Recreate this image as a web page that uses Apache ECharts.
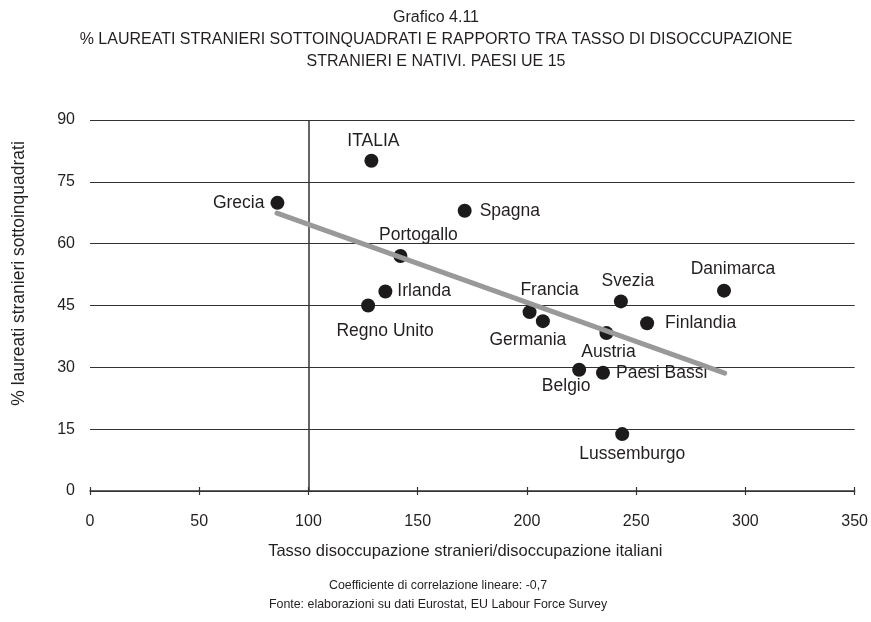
<!DOCTYPE html>
<html>
<head>
<meta charset="utf-8">
<script src="https://cdn.jsdelivr.net/npm/echarts@6/dist/echarts.min.js"></script>
<style>
  html, body { margin: 0; padding: 0; background: #fff; }
  #chart { width: 871px; height: 622px; }
</style>
</head>
<body>
<div id="chart"></div>
<script>
// EU-15 countries: unemployment ratio (foreign / native, index) vs % of overqualified foreign graduates
const countries = ['Grecia', 'ITALIA', 'Spagna', 'Portogallo', 'Irlanda', 'Regno Unito', 'Francia', 'Germania',
  'Svezia', 'Danimarca', 'Finlandia', 'Austria', 'Belgio', 'Paesi Bassi', 'Lussemburgo'];
const unemploymentRatio = [85.8, 128.8, 171.5, 142.1, 135.2, 127.3, 201.2, 207.3, 243.0, 290.2, 255.0, 236.4, 223.9, 234.8, 243.6];
const overqualifiedPct = [69.9, 80.1, 68.0, 57.0, 48.4, 45.0, 43.4, 41.2, 46.0, 48.6, 40.7, 38.3, 29.4, 28.7, 13.8];

// Linear trend line endpoints
const trendX = [85.6, 290.5];
const trendY = [67.4, 28.6];

// Axis ticks
const xTickValues = [0, 50, 100, 150, 200, 250, 300, 350];
const yTickValues = [0, 15, 30, 45, 60, 75, 90];
const referenceX = 100;

const titleLines = [
  'Grafico 4.11',
  '% LAUREATI STRANIERI SOTTOINQUADRATI E RAPPORTO TRA TASSO DI DISOCCUPAZIONE',
  'STRANIERI E NATIVI. PAESI UE 15'
];
const footerLines = [
  'Coefficiente di correlazione lineare: -0,7',
  'Fonte: elaborazioni su dati Eurostat, EU Labour Force Survey'
];

const FONT = '"Liberation Sans", Arial, sans-serif';
const INK = '#231f20';

// Where each country's name sits around its dot
const labelLayout = {
  'Grecia':      { position: 'left',   distance: 6 },
  'ITALIA':      { position: 'top',    distance: 4, offset: [2, 0] },
  'Spagna':      { position: 'right',  distance: 8 },
  'Portogallo':  { position: 'top',    distance: 5, offset: [18, 0] },
  'Irlanda':     { position: 'right',  distance: 5 },
  'Regno Unito': { position: 'bottom', distance: 10, offset: [17, 0] },
  'Francia':     { position: 'top',    distance: 6, offset: [20, 0] },
  'Germania':    { position: 'bottom', distance: 3, offset: [-15, 0] },
  'Svezia':      { position: 'top',    distance: 4, offset: [7, 0] },
  'Danimarca':   { position: 'top',    distance: 5, offset: [9, 0] },
  'Finlandia':   { position: 'right',  distance: 11 },
  'Austria':     { position: 'bottom', distance: 3, offset: [2, 0] },
  'Belgio':      { position: 'bottom', distance: 0, offset: [-13, 0] },
  'Paesi Bassi': { position: 'right',  distance: 6 },
  'Lussemburgo': { position: 'bottom', distance: 4, offset: [10, 0] }
};

const points = countries.map((name, i) => ({
  name: name,
  value: [unemploymentRatio[i], overqualifiedPct[i]],
  label: Object.assign({ show: true, formatter: name }, labelLayout[name])
}));

const trendData = trendX.map((x, i) => [x, trendY[i]]);

const axisCommon = {
  type: 'value',
  min: xTickValues[0],
  max: xTickValues[xTickValues.length - 1],
  interval: xTickValues[1] - xTickValues[0]
};

const centeredText = (lines, x, y0, step, size) => lines.map((t, i) => ({
  type: 'text',
  x: x,
  y: y0 + i * step,
  silent: true,
  style: { text: t, fontFamily: FONT, fontSize: size, fill: INK, align: 'center', verticalAlign: 'middle' }
}));

const chart = echarts.init(document.getElementById('chart'), null, { renderer: 'canvas' });

chart.setOption({
  backgroundColor: '#ffffff',
  animation: false,
  textStyle: { fontFamily: FONT, color: INK },
  graphic: [].concat(
    centeredText(titleLines, 436, 17.5, 22, 16),
    centeredText(footerLines, 438, 586, 19, 12.4)
  ),
  grid: { left: 90, right: 11, top: 120, bottom: 131, containLabel: false },
  xAxis: [
    Object.assign({}, axisCommon, {
      position: 'bottom',
      name: 'Tasso disoccupazione stranieri/disoccupazione italiani',
      nameLocation: 'middle',
      nameGap: 52,
      nameTextStyle: { fontFamily: FONT, fontSize: 16.5, color: INK, padding: [0, 14, 0, 0] },
      axisLine: { show: true, onZero: false, lineStyle: { color: '#333', width: 1.5 } },
      axisTick: { show: true, inside: false, length: 4, lineStyle: { color: '#333', width: 1.2 } },
      axisLabel: { fontFamily: FONT, fontSize: 16, color: INK, margin: 23 },
      splitLine: { show: false }
    }),
    // Overlapping axis that adds the upper half of each tick mark
    Object.assign({}, axisCommon, {
      position: 'bottom',
      offset: 0,
      axisLine: { show: false },
      axisTick: { show: true, inside: true, length: 4, lineStyle: { color: '#333', width: 1.2 } },
      axisLabel: { show: false },
      splitLine: { show: false }
    })
  ],
  yAxis: {
    type: 'value',
    min: yTickValues[0],
    max: yTickValues[yTickValues.length - 1],
    interval: yTickValues[1] - yTickValues[0],
    name: '% laureati stranieri sottoinquadrati',
    nameLocation: 'middle',
    nameGap: 62,
    nameRotate: 90,
    nameTextStyle: { fontFamily: FONT, fontSize: 17.5, color: INK, padding: [0, 0, 0, 64] },
    axisLine: { show: false },
    axisTick: { show: false },
    axisLabel: { fontFamily: FONT, fontSize: 16, color: INK, margin: 15 },
    splitLine: { show: true, lineStyle: { color: '#333', width: 1.2 } }
  },
  series: [
    {
      type: 'scatter',
      xAxisIndex: 0,
      symbol: 'circle',
      symbolSize: 14,
      itemStyle: { color: '#1d1a1b', opacity: 1 },
      label: { fontFamily: FONT, fontSize: 17.5, color: INK },
      data: points,
      z: 3,
      markLine: {
        silent: true,
        symbol: 'none',
        label: { show: false },
        lineStyle: { color: '#333', width: 1.5, type: 'solid' },
        data: [{ xAxis: referenceX }]
      }
    },
    {
      type: 'line',
      xAxisIndex: 0,
      data: trendData,
      showSymbol: false,
      symbol: 'none',
      lineStyle: { color: '#999999', width: 5, cap: 'round' },
      z: 5
    }
  ]
});
</script>
</body>
</html>
